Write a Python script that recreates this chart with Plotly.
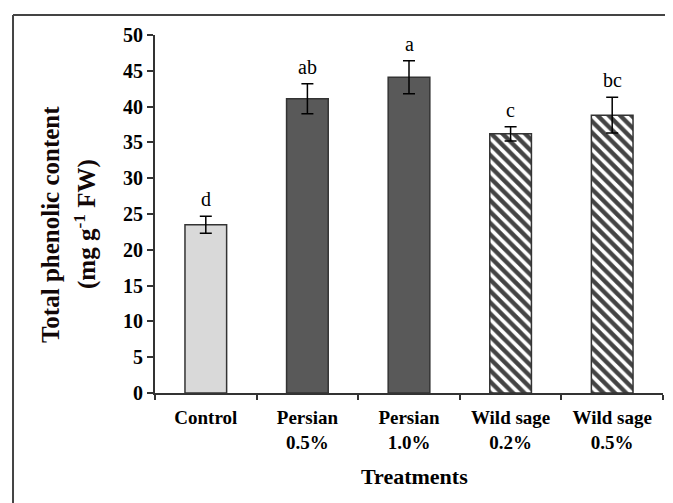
import plotly.graph_objects as go

# data
treatments = ["Control", "Persian<br>0.5%", "Persian<br>1.0%", "Wild sage<br>0.2%", "Wild sage<br>0.5%"]
phenolic = [23.5, 41.1, 44.1, 36.2, 38.8]
sd = [1.2, 2.1, 2.3, 1.0, 2.5]
letters = ["d", "ab", "a", "c", "bc"]

bar_colors = ["#d9d9d9", "#595959", "#595959", "white", "white"]
patterns = ["", "", "", "\\", "\\"]
serif = "Liberation Serif"

fig = go.Figure()

fig.add_trace(go.Bar(
    x=treatments, y=phenolic, width=0.41,
    marker=dict(color=bar_colors,
                line=dict(color="#333333", width=1.5),
                pattern=dict(shape=patterns, fgcolor="black", bgcolor="white",
                             fgopacity=1, size=8, solidity=0.55)),
    error_y=dict(type="data", array=sd, color="black", thickness=1.5, width=6),
))

# significance letters above error bars
for t, m, e, l in zip(treatments, phenolic, sd, letters):
    fig.add_annotation(x=t, y=m + e, text=l, showarrow=False, yanchor="bottom",
                       yshift=4, font=dict(family=serif, size=20, color="black"))

# axis titles as annotations
fig.add_annotation(xref="paper", yref="paper", x=-0.2067, y=0.472, text="Total phenolic content",
                   textangle=-90, showarrow=False, xanchor="center", yanchor="middle",
                   font=dict(family=serif, size=25, color="#120707", weight="bold"))
fig.add_annotation(xref="paper", yref="paper", x=-0.1378, y=0.472, text="(mg g<sup>-1</sup> FW)",
                   textangle=-90, showarrow=False, xanchor="center", yanchor="middle",
                   font=dict(family=serif, size=25, color="#120707", weight="bold"))
fig.add_annotation(xref="paper", yref="paper", x=0.51, y=-0.232, text="Treatments",
                   showarrow=False, xanchor="center", yanchor="middle",
                   font=dict(family=serif, size=22, color="black", weight="bold"))

# outer frame (left and top edges visible)
fig.add_shape(type="line", xref="paper", yref="paper", x0=-0.2795, x1=-0.2795, y0=-0.4, y1=1.0559,
              line=dict(color="#444444", width=2))
fig.add_shape(type="line", xref="paper", yref="paper", x0=-0.2795, x1=1.1, y0=1.0559, y1=1.0559,
              line=dict(color="#444444", width=2))

# page body adds ~8px offset, so the figure is sized 8px smaller
fig.update_layout(
    width=665, height=495,
    margin=dict(l=147, r=10, t=27, b=110),
    plot_bgcolor="white", paper_bgcolor="white",
    showlegend=False,
    xaxis=dict(range=[-0.5, 4.5], showline=True, linecolor="#333333", linewidth=2,
               ticks="outside", tickson="boundaries", ticklen=5, tickwidth=1.5, tickcolor="#333333",
               tickfont=dict(family=serif, size=19, color="black", weight="bold"),
               ticklabelstandoff=6, showgrid=False),
    yaxis=dict(range=[0, 50], dtick=5, showline=True, linecolor="#333333", linewidth=2,
               ticks="outside", ticklen=6, tickwidth=1.5, tickcolor="#333333",
               tickfont=dict(family=serif, size=20, color="black", weight="bold"),
               showgrid=False, zeroline=False),
)

fig.write_html("out.html")
